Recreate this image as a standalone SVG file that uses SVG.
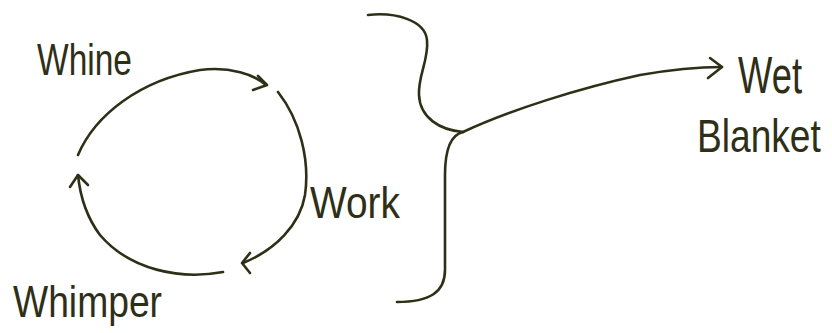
<svg xmlns="http://www.w3.org/2000/svg" width="832" height="333" viewBox="0 0 832 333">
<style>
.ln{fill:none;stroke:#2f2f18;stroke-width:2.6;stroke-linecap:round;stroke-linejoin:round}
.t{font-family:"Liberation Sans","Open Sans",sans-serif;fill:#2f2f18;font-weight:normal}
</style>
<rect width="832" height="333" fill="#ffffff"/>
<g id="whine"><text class="t" x="37" y="75" font-size="44" textLength="95" lengthAdjust="spacingAndGlyphs">Whine</text></g>
<g id="work"><text class="t" x="310" y="218" font-size="44" textLength="90" lengthAdjust="spacingAndGlyphs">Work</text></g>
<g id="whimper"><text class="t" x="13" y="317" font-size="44" textLength="149" lengthAdjust="spacingAndGlyphs">Whimper</text></g>
<g id="wet-blanket">
<text class="t" x="738" y="93" font-size="52" textLength="64" lengthAdjust="spacingAndGlyphs">Wet</text>
<text class="t" transform="translate(697,152) scale(0.79,1)" x="0" y="0" font-size="47">Blanket</text>
</g>
<g id="connectors">
<path class="ln" d="M78,155 C95,115 140,80 200,70 C230,66 255,75 266,85"/>
<path class="ln" d="M258,76 L267,85 L253,90"/>
<path class="ln" d="M278,92 C300,120 310,160 305,195 C300,225 275,250 243,263"/>
<path class="ln" d="M250,253 L242,263 L250,273"/>
<path class="ln" d="M223,272 C180,280 130,270 100,235 C85,215 80,195 78,175"/>
<path class="ln" d="M70,187 L78,175 L88,185"/>
<path class="ln" d="M368,15 C395,12 425,20 427,40 C429,60 418,75 419,95 C420,118 440,130 463,132"/>
<path class="ln" d="M463,132 C450,135 445,150 445,175 L445,270 C445,292 430,302 397,302"/>
<path class="ln" d="M463,132 C510,110 580,88 640,75 C680,68 700,67 722,67"/>
<path class="ln" d="M710,58 L722,67 L708,78"/>
</g>
</svg>
